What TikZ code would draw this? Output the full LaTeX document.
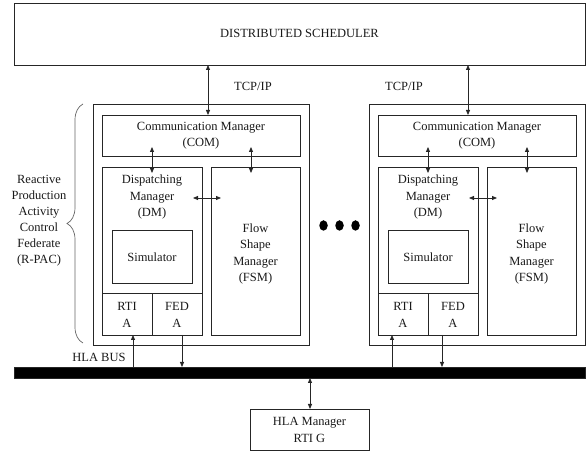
\documentclass[tikz,border=0pt]{standalone}
\usepackage{fontspec}
\setmainfont{Liberation Serif}
\usetikzlibrary{arrows.meta,decorations.pathreplacing,shapes.geometric}
\newcommand\mybox[6]{\node[rect,minimum width={(#4)-(#2)},minimum height={(#5)-(#3)}] (#1) at (#2,#3) {#6};}
\begin{document}
\begin{tikzpicture}[x=1pt,y=-1pt,
  line/.style={draw=black!85,line width=0.8pt},
  rect/.style={line,rectangle,inner sep=0pt,outer sep=0pt,anchor=north west},
  lbl/.style={font=\fontsize{12.5}{16.5}\selectfont,align=center,inner sep=0pt,text=black!90},
  tip/.tip={Triangle[length=5pt,width=4pt]},
  dbl/.style={line,tip-tip},
  one/.style={line,-tip},
  dot/.style={ellipse,fill=black,inner sep=0pt,minimum width=8.5pt,minimum height=10.5pt}]
\useasboundingbox (0,0) rectangle (587,454);

% distributed scheduler
\mybox{ds}{14}{3}{585}{65}{}
\node[lbl] (dst) at (299.5,33) {DISTRIBUTED SCHEDULER};
\node[lbl] (tcpL) at (253,86) {TCP/IP};
\node[lbl] (tcpR) at (404,86) {TCP/IP};

% federates
\foreach \p/\dx in {L/0,R/276}{
  \mybox{\p-out}{93+\dx}{104}{309+\dx}{345}{}
  \mybox{\p-com}{102+\dx}{115}{300+\dx}{156}{}
  \node[lbl] (\p-comt) at (201+\dx,135.5) {Communication Manager\\(COM)};
  \mybox{\p-dm}{102+\dx}{167}{202+\dx}{293}{}
  \node[lbl] (\p-dmt) at (152+\dx,197) {Dispatching\\Manager\\(DM)};
  \mybox{\p-sim}{112+\dx}{230}{192+\dx}{283}{}
  \node[lbl] (\p-simt) at (152+\dx,257) {Simulator};
  \mybox{\p-rti}{102+\dx}{293}{152+\dx}{335}{}
  \node[lbl] (\p-rtit) at (127+\dx,315) {RTI\\A};
  \mybox{\p-fed}{152+\dx}{293}{202+\dx}{335}{}
  \node[lbl] (\p-fedt) at (177+\dx,315) {FED\\A};
  \mybox{\p-fsm}{211+\dx}{167}{300+\dx}{335}{}
  \node[lbl] (\p-fsmt) at (255.5+\dx,254) {Flow\\Shape\\Manager\\(FSM)};
  % internal arrows
  \coordinate (\p-a1) at (152+\dx,147);
  \coordinate (\p-a2) at (152+\dx,173);
  \coordinate (\p-b1) at (251+\dx,147);
  \coordinate (\p-b2) at (251+\dx,173);
  \coordinate (\p-c1) at (193+\dx,198);
  \coordinate (\p-c2) at (221+\dx,198);
  \draw[dbl] (\p-a1) -- (\p-a2);
  \draw[dbl] (\p-b1) -- (\p-b2);
  \draw[dbl] (\p-c1) -- (\p-c2);
}

% scheduler links
\draw[dbl] (ds.south -| 208,0) -- (L-com.north -| 208,0);
\draw[dbl] (ds.south -| 468,0) -- (R-com.north -| 468,0);

% R-PAC label and brace
\node[lbl,font=\fontsize{12.5}{16}\selectfont] (rpac) at (39,221) {Reactive\\Production\\Activity\\Control\\Federate\\(R-PAC)};
\draw[draw=black!60,line width=0.7pt,decorate,decoration={brace,amplitude=16pt}] (83,343) -- (83,104);

% dots
\node[dot] (d1) at (323.5,225.5) {};
\node[dot] (d2) at (339.5,225.5) {};
\node[dot] (d3) at (355.5,225.5) {};

% HLA bus
\node[rect,fill=black,minimum width=571,minimum height=11] (bus) at (14,367) {};
\node[lbl] (busl) at (99,357) {HLA BUS};
\draw[one] (bus.north -| 133,0) -- (L-rti.south -| 133,0);
\draw[one] (L-fed.south -| 182,0) -- (bus.north -| 182,0);
\draw[one] (bus.north -| 392,0) -- (R-rti.south -| 392,0);
\draw[one] (R-fed.south -| 442,0) -- (bus.north -| 442,0);

% HLA manager
\mybox{hla}{250}{409}{369}{450}{}
\node[lbl] (hlat) at (309.5,430) {HLA Manager\\RTI G};
\draw[dbl] (bus.south -| 310,0) -- (hla.north -| 310,0);
\end{tikzpicture}
\end{document}
